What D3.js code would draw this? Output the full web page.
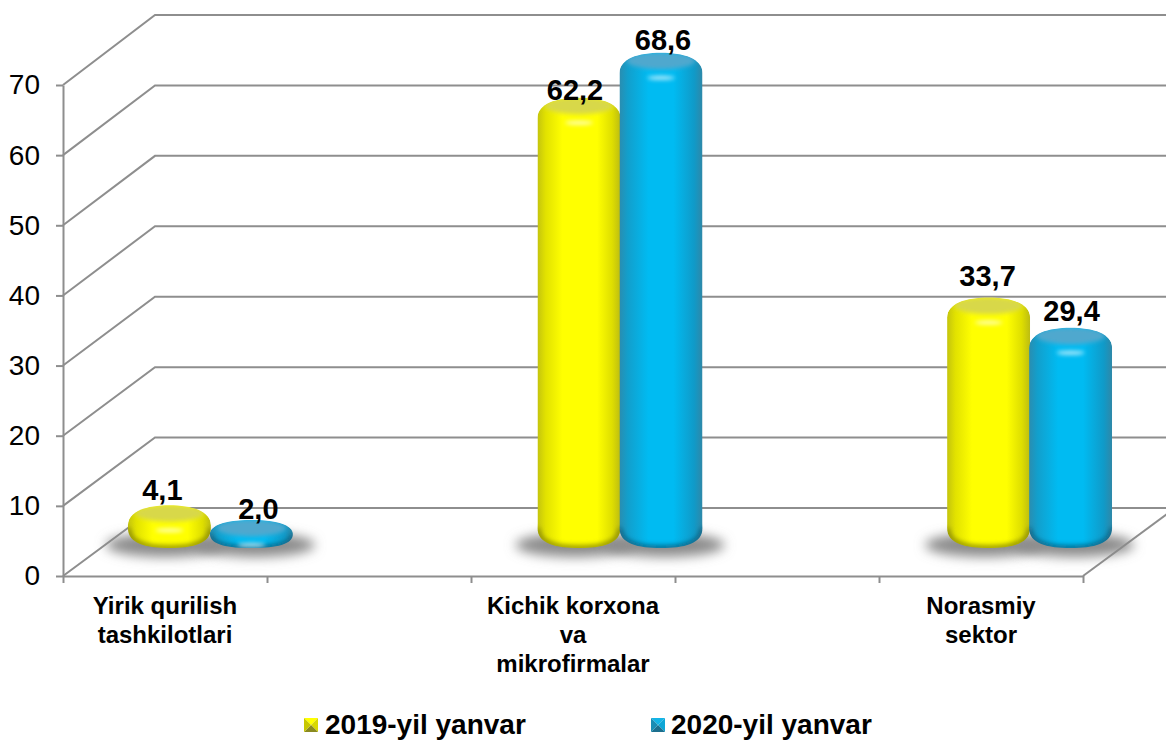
<!DOCTYPE html>
<html>
<head>
<meta charset="utf-8">
<style>
  html, body { margin: 0; padding: 0; background: #fff; overflow: hidden; }
  text { font-family: "Liberation Sans", Arial, sans-serif; fill: #000; }
</style>
<script src="https://cdn.jsdelivr.net/npm/d3@7"></script>
</head>
<body>
<div id="grafica"></div>
<script>
  const categorias = [
    ["Yirik qurilish", "tashkilotlari"],
    ["Kichik korxona", "va", "mikrofirmalar"],
    ["Norasmiy", "sektor"]
  ];
  const seriesNombres = ["2019-yil yanvar", "2020-yil yanvar"];
  const valores2019 = [4.1, 62.2, 33.7];
  const valores2020 = [2.0, 68.6, 29.4];
  const etiquetas2019 = ["4,1", "62,2", "33,7"];
  const etiquetas2020 = ["2,0", "68,6", "29,4"];
  const yTicks = [0, 10, 20, 30, 40, 50, 60, 70];

  // ajustes de las etiquetas respecto a la cima de cada cilindro
  const ajuste2019 = [[-7, -12], [-4, -5], [-1, -19]];
  const ajuste2020 = [[7, -8], [2, -10], [1, -14]];

  const width = 1166, height = 740;
  const fondoX = 92, fondoYcero = -35; // mitad de la profundidad: donde apoyan los cilindros
  const rx = 41.5, ry = 7;

  const svg = d3.select("#grafica").append("svg")
    .attr("width", width).attr("height", height)
    .style("display", "block");

  const y = d3.scaleLinear().domain([0, 70]).range([576, 85]);
  const yFondo = d3.scaleLinear().domain([0, 70]).range([508, 15]);
  // cinco huecos: las categorias ocupan 0, 2 y 4
  const xEje = d3.scaleLinear().domain([0, 5]).range([63, 1083]);
  const xBarras = d3.scaleBand().domain(d3.range(5)).range([62, 1086]);
  const huecos = [0, 2, 4];

  const defs = svg.append("defs");

  function gradiente(id, paradas) {
    const g = defs.append("linearGradient").attr("id", id);
    paradas.forEach(p => g.append("stop").attr("offset", p[0]).attr("stop-color", p[1]));
  }
  gradiente("cuerpo0", [[0, "#c4c40e"], [0.1, "#e2e200"], [0.3, "#ffff00"], [0.72, "#ffff00"], [0.9, "#dede00"], [1, "#bcbc12"]]);
  gradiente("cuerpo1", [[0, "#2a8db0"], [0.1, "#129fcc"], [0.35, "#00bbf2"], [0.65, "#00bbf2"], [0.9, "#109ac8"], [1, "#2f88a8"]]);

  defs.append("filter").attr("id", "sombra")
    .attr("x", "-30%").attr("y", "-100%").attr("width", "160%").attr("height", "300%")
    .append("feGaussianBlur").attr("stdDeviation", 6);
  defs.append("filter").attr("id", "suave")
    .attr("x", "-50%").attr("y", "-200%").attr("width", "200%").attr("height", "500%")
    .append("feGaussianBlur").attr("stdDeviation", 2.5);
  defs.append("filter").attr("id", "brillo")
    .attr("x", "-50%").attr("y", "-200%").attr("width", "200%").attr("height", "500%")
    .append("feGaussianBlur").attr("stdDeviation", 2);

  const gris = "#8e8e8e";

  // Rejilla: diagonal + linea de fondo
  svg.append("g").selectAll("path")
    .data(yTicks)
    .enter().append("path")
    .attr("d", d => `M${xEje(0)},${y(d)} L${xEje(0) + fondoX},${yFondo(d)} L${width},${yFondo(d)}`)
    .attr("fill", "none")
    .attr("stroke", gris)
    .attr("stroke-width", 2);

  // Suelo, diagonal derecha
  svg.append("path")
    .attr("d", `M${xEje(5)},${y(0)} L${xEje(5) + fondoX},${yFondo(0)}`)
    .attr("stroke", gris).attr("stroke-width", 2).attr("fill", "none");

  // Ejes
  const ejeY = svg.append("g")
    .attr("transform", `translate(${xEje(0)},0)`)
    .call(d3.axisLeft(y).tickValues(yTicks).tickSize(7).tickPadding(16).tickSizeOuter(0));
  ejeY.selectAll("path, line").attr("stroke", gris).attr("stroke-width", 2);
  ejeY.selectAll("text").style("font-size", "28px").attr("font-family", null);

  const ejeX = svg.append("g")
    .attr("transform", `translate(0,${y(0)})`)
    .call(d3.axisBottom(xEje).tickValues(d3.range(6)).tickSize(7).tickSizeOuter(0).tickFormat(""));
  ejeX.selectAll("path, line").attr("stroke", gris).attr("stroke-width", 2);

  // Nombres de categoria
  const nombres = svg.append("g").selectAll("text")
    .data(categorias)
    .enter().append("text")
    .attr("text-anchor", "middle")
    .style("font-size", "24px")
    .style("font-weight", "bold");
  nombres.selectAll("tspan")
    .data((d, i) => d.map((t, j) => ({ t, j, i })))
    .enter().append("tspan")
    .attr("x", d => xEje(huecos[d.i] + 0.5))
    .attr("y", d => 614 + d.j * 29)
    .text(d => d.t);

  // Cilindros
  const barras = [];
  [valores2019, valores2020].forEach((vals, s) => {
    vals.forEach((v, i) => {
      const tope = y(v) + fondoYcero, base = y(0) + fondoYcero;
      barras.push({
        s, i, v, tope, base,
        cx: xBarras(huecos[i]) + xBarras.bandwidth() / 2 + fondoX / 2 + (s === 0 ? -rx + 0.5 : rx - 0.5),
        T: tope - ry,
        B: base + ry
      });
    });
  });

  // sombras primero
  svg.append("g").selectAll("ellipse")
    .data(barras)
    .enter().append("ellipse")
    .attr("cx", d => d.cx + (d.s === 0 ? -4 : 4))
    .attr("cy", d => d.base + 4)
    .attr("rx", rx + 18)
    .attr("ry", 12)
    .attr("fill", "#8a8a8a")
    .attr("filter", "url(#sombra)");

  // contorno con hombros redondeados
  function hombro(d) { return Math.min(20, (d.B - d.T) / 2); }
  function contorno(d) {
    const S = hombro(d), k = rx * 0.55;
    return `M${d.cx - rx},${d.T + S}` +
      ` C${d.cx - rx},${d.T + S * 0.3} ${d.cx - k},${d.T} ${d.cx},${d.T}` +
      ` C${d.cx + k},${d.T} ${d.cx + rx},${d.T + S * 0.3} ${d.cx + rx},${d.T + S}` +
      ` L${d.cx + rx},${d.B - S}` +
      ` C${d.cx + rx},${d.B - S * 0.2} ${d.cx + k},${d.B} ${d.cx},${d.B}` +
      ` C${d.cx - k},${d.B} ${d.cx - rx},${d.B - S * 0.2} ${d.cx - rx},${d.B - S} Z`;
  }
  function curvaInferior(d) {
    const S = hombro(d), k = rx * 0.55;
    return `M${d.cx + rx},${d.B - S}` +
      ` C${d.cx + rx},${d.B - S * 0.2} ${d.cx + k},${d.B} ${d.cx},${d.B}` +
      ` C${d.cx - k},${d.B} ${d.cx - rx},${d.B - S * 0.2} ${d.cx - rx},${d.B - S}`;
  }

  barras.forEach((d, n) => {
    defs.append("clipPath").attr("id", "clip" + n).append("path").attr("d", contorno(d));
  });

  const cil = svg.append("g").selectAll("g")
    .data(barras)
    .enter().append("g")
    .attr("clip-path", (d, n) => `url(#clip${n})`);

  cil.append("path")
    .attr("d", contorno)
    .attr("fill", d => `url(#cuerpo${d.s})`);

  // borde inferior oscuro
  cil.append("path")
    .attr("d", curvaInferior)
    .attr("fill", "none")
    .attr("stroke", d => d.s === 0 ? "#8f8f00" : "#0b6484")
    .attr("stroke-width", 5)
    .attr("filter", "url(#suave)");

  // tapa
  cil.append("ellipse")
    .attr("cx", d => d.cx)
    .attr("cy", d => d.T + Math.min(8, (d.B - d.T) * 0.3))
    .attr("rx", rx - 7)
    .attr("ry", d => Math.min(8.5, (d.B - d.T) * 0.3))
    .attr("fill", d => d.s === 0 ? "#d8d84a" : "#4fa8ce")
    .attr("filter", "url(#brillo)");

  // brillo
  cil.append("ellipse")
    .attr("cx", d => d.cx)
    .attr("cy", d => Math.min(d.T + 25, d.B - 3))
    .attr("rx", 14)
    .attr("ry", 2)
    .attr("fill", "#fff")
    .attr("opacity", 0.7)
    .attr("filter", "url(#brillo)");

  // Valores
  const ajustes = [ajuste2019, ajuste2020];
  const etiquetas = [etiquetas2019, etiquetas2020];
  svg.append("g").selectAll("text")
    .data(barras)
    .enter().append("text")
    .attr("x", d => d.cx + ajustes[d.s][d.i][0])
    .attr("y", d => d.tope + ajustes[d.s][d.i][1])
    .attr("text-anchor", "middle")
    .style("font-size", "29px")
    .style("font-weight", "bold")
    .text(d => etiquetas[d.s][d.i]);

  // Leyenda
  const leyendaX = d3.scaleOrdinal().domain(seriesNombres).range([304, 651]);
  const caras = [
    ["#ffff00", "#d8d800", "#8a8a20", "#c8c800"],
    ["#14b4e6", "#0ea6d6", "#1c6f8e", "#1a8db4"]
  ];
  const leyenda = svg.append("g").selectAll("g")
    .data(seriesNombres)
    .enter().append("g")
    .attr("transform", d => `translate(${leyendaX(d)},718)`);
  const lado = 14;
  const triangulos = [
    `M0,0 L${lado},0 L${lado / 2},${lado / 2} Z`,
    `M${lado},0 L${lado},${lado} L${lado / 2},${lado / 2} Z`,
    `M0,${lado} L${lado},${lado} L${lado / 2},${lado / 2} Z`,
    `M0,0 L0,${lado} L${lado / 2},${lado / 2} Z`
  ];
  leyenda.each(function (d, s) {
    d3.select(this).selectAll("path")
      .data(triangulos)
      .enter().append("path")
      .attr("d", t => t)
      .attr("fill", (t, k) => caras[s][k]);
  });
  leyenda.append("text")
    .attr("x", (d, s) => s === 0 ? 21 : 20)
    .attr("y", 15.5)
    .style("font-size", "28px")
    .style("font-weight", "bold")
    .text(d => d);
</script>
</body>
</html>
